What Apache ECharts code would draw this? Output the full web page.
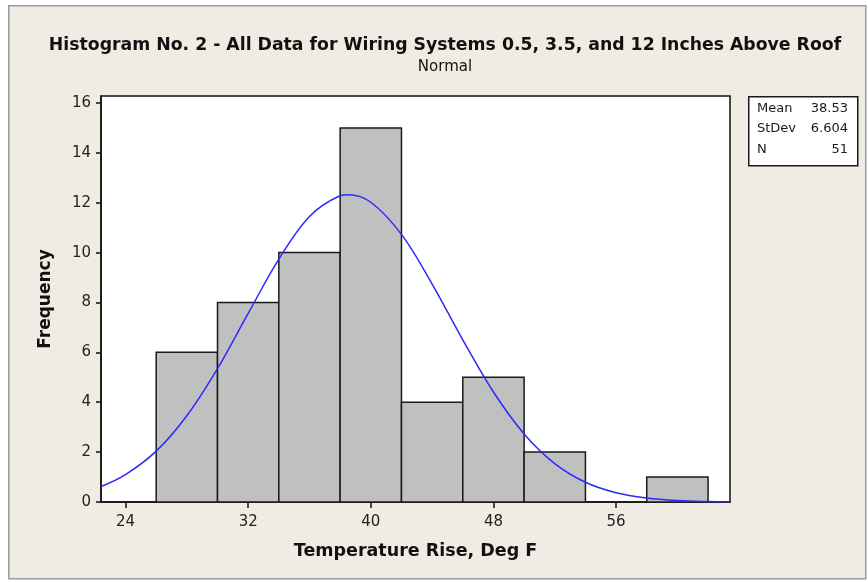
<!DOCTYPE html>
<html>
<head>
<meta charset="utf-8">
<script src="https://cdn.jsdelivr.net/npm/echarts@6/dist/echarts.min.js"></script>
<style>
  html, body { margin: 0; padding: 0; background: #ffffff; }
  #chart { width: 868px; height: 582px; }
</style>
</head>
<body>
<div id="chart"></div>
<script>
// Histogram bins (lower edge, upper edge) and counts
const binStarts = [26, 30, 34, 38, 42, 46, 50, 54, 58];
const binEnds   = [30, 34, 38, 42, 46, 50, 54, 58, 62];
const counts    = [6, 8, 10, 15, 4, 5, 2, 0, 1];

// Fitted normal curve, sampled along the temperature axis
const curveX = [22.4, 24, 26, 28, 30, 32, 34, 36, 38, 38.5, 40, 42, 44, 46, 48, 50, 52, 54, 56, 58, 60, 62, 63.4];
const curveY = [0.62, 1.10, 2.04, 3.46, 5.35, 7.56, 9.74, 11.45, 12.28, 12.32, 12.02, 10.73, 8.74, 6.50, 4.41, 2.73, 1.54, 0.79, 0.37, 0.16, 0.06, 0.02, 0.01];

// Tick labels
const xTicks = [24, 32, 40, 48, 56];
const yTicks = [0, 2, 4, 6, 8, 10, 12, 14, 16];

// Summary statistics box
const statNames  = ['Mean', 'StDev', 'N'];
const statValues = ['38.53', '6.604', '51'];

const FONT = 'DejaVu Sans, sans-serif';
const chart = echarts.init(document.getElementById('chart'));

const histData = binStarts.map((s, i) => [s, binEnds[i], counts[i]]);
const curveData = curveX.map((x, i) => [x, curveY[i]]);

const statGraphics = [];
statNames.forEach((n, i) => {
  statGraphics.push({
    type: 'text', left: 757, top: 102 + i * 20.5,
    style: { text: n, font: '13px ' + FONT, fill: '#1a1a1a' }
  });
  statGraphics.push({
    type: 'text', right: 20, top: 102 + i * 20.5,
    style: { text: statValues[i], font: '13px ' + FONT, fill: '#1a1a1a', textAlign: 'right' }
  });
});

chart.setOption({
  backgroundColor: '#ffffff',
  animation: false,
  graphic: [
    { type: 'rect', left: 8, top: 5, z: -10,
      shape: { width: 857, height: 573 },
      style: { fill: '#f1ece3', stroke: '#9a9a9a', lineWidth: 1.5 } },
    { type: 'rect', left: 748, top: 96,
      shape: { width: 109, height: 69 },
      style: { fill: '#ffffff', stroke: '#1a1a1a', lineWidth: 1.5 } },
    ...statGraphics
  ],
  title: {
    text: 'Histogram No. 2 - All Data for Wiring Systems 0.5, 3.5, and 12 Inches Above Roof',
    subtext: 'Normal',
    left: 440, top: 32, textAlign: 'center', itemGap: 6,
    textStyle: { fontFamily: FONT, fontWeight: 'bold', fontSize: 17.3, color: '#111' },
    subtextStyle: { fontFamily: FONT, fontSize: 15, color: '#111' }
  },
  grid: {
    left: 101, right: 138, top: 96, bottom: 80,
    show: true, backgroundColor: '#ffffff', borderColor: '#111', borderWidth: 1.5
  },
  xAxis: {
    type: 'value', min: 22.4, max: 63.43,
    name: 'Temperature Rise, Deg F', nameLocation: 'middle', nameGap: 40,
    nameTextStyle: { fontFamily: FONT, fontWeight: 'bold', fontSize: 17.5, color: '#111' },
    axisLine: { show: true, lineStyle: { color: '#111', width: 1.5 } },
    axisTick: { show: true, length: 6, customValues: xTicks, lineStyle: { color: '#111', width: 1.5 } },
    axisLabel: { customValues: xTicks, margin: 13, fontFamily: FONT, fontSize: 15, color: '#222' },
    splitLine: { show: false }
  },
  yAxis: {
    type: 'value', min: 0, max: 16.28,
    name: 'Frequency', nameLocation: 'middle', nameGap: 47,
    nameTextStyle: { fontFamily: FONT, fontWeight: 'bold', fontSize: 17, color: '#111' },
    axisLine: { show: true, lineStyle: { color: '#111', width: 1.5 } },
    axisTick: { show: true, length: 5, customValues: yTicks, lineStyle: { color: '#111', width: 1.5 } },
    axisLabel: { customValues: yTicks, margin: 10, fontFamily: FONT, fontSize: 15, color: '#222' },
    splitLine: { show: false }
  },
  series: [
    {
      type: 'custom',
      data: histData,
      encode: { x: [0, 1], y: 2 },
      clip: true,
      renderItem: function (params, api) {
        const h = api.value(2);
        if (!h) return null;
        const p0 = api.coord([api.value(0), h]);
        const p1 = api.coord([api.value(1), 0]);
        return {
          type: 'rect',
          shape: { x: p0[0], y: p0[1], width: p1[0] - p0[0], height: p1[1] - p0[1] },
          style: { fill: '#c0c0c0', stroke: '#1a1a1a', lineWidth: 1.5 }
        };
      },
      z: 2
    },
    {
      type: 'line',
      data: curveData,
      smooth: 0.35,
      showSymbol: false,
      clip: true,
      lineStyle: { color: '#2a2aff', width: 1.5 },
      z: 3
    }
  ]
});
</script>
</body>
</html>
